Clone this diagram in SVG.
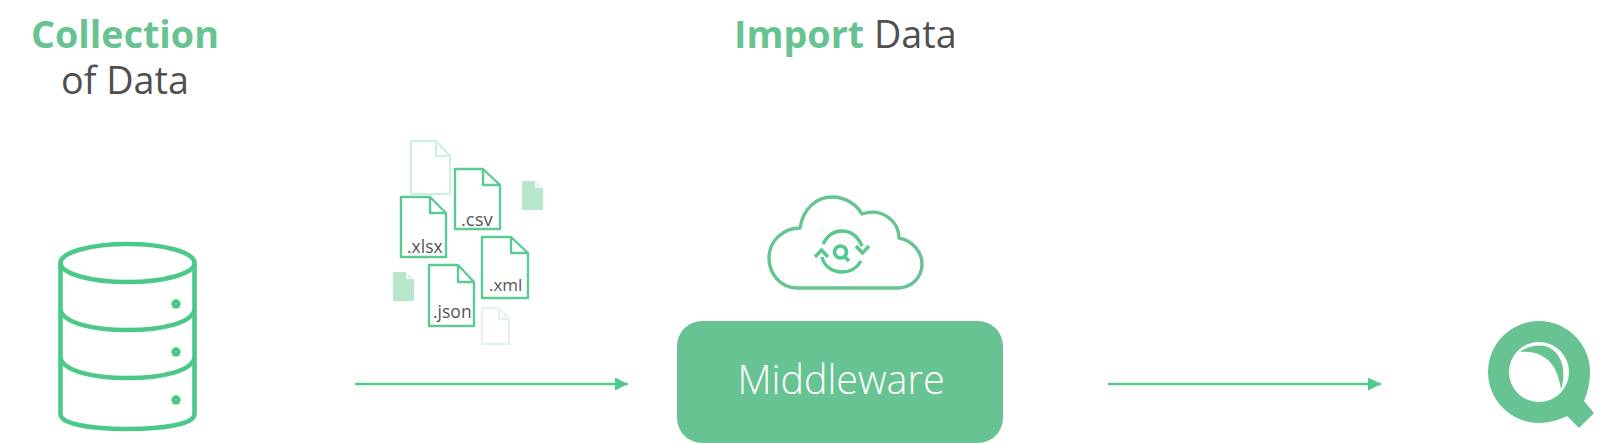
<svg xmlns="http://www.w3.org/2000/svg" width="1600" height="443" viewBox="0 0 1600 443">
<style>
text{font-family:"Open Sans","Liberation Sans",sans-serif}
.t{font-size:37.700px;fill:#4f4f4f}
.b{font-weight:700;fill:#67c391}
.f{fill:#fff;stroke:#5bcb93;stroke-width:2.400;stroke-linejoin:round}
.l{fill:#fff;stroke:#cfefdd;stroke-width:2}
.x{fill:#fff;stroke:#e0f5ea;stroke-width:2}
.s{fill:#b7e6cd}
.e{font-size:17.500px;fill:#555}
.i{fill:none;stroke:#4cc98a;stroke-width:4.600}
.c{fill:none;stroke:#67c391;stroke-width:3.400;stroke-linejoin:round}
.w{stroke:#50c98c;stroke-width:2.600;fill:none}
.y{stroke:#5cc690;stroke-width:3.400;fill:none}
</style>
<defs>
<marker id="ah" markerUnits="userSpaceOnUse" markerWidth="14" markerHeight="14" refX="13" refY="6.500" orient="auto"><path d="M0 0L13 6.500L0 13Z" fill="#50c98c"/></marker>
</defs>
<g id="title-collection"><text class="t b" x="125" y="48" text-anchor="middle">Collection</text><text class="t" x="125" y="94" text-anchor="middle">of Data</text></g>
<g id="title-import"><text class="t" x="734" y="48"><tspan class="b">Import</tspan> Data</text></g>
<g id="database">
<ellipse class="i" cx="127.500" cy="263" rx="67" ry="19"/>
<path class="i" d="M60.500 263V414C60.500 424 90 429 127.500 429S194.500 424 194.500 414V263"/>
<path class="i" d="M60.500 310C64 323 92 330 127.500 330S191 323 194.500 310"/>
<path class="i" d="M60.500 358C64 371 92 378 127.500 378S191 371 194.500 358"/>
<circle cx="176" cy="304" r="4.700" fill="#4cc98a"/><circle cx="176" cy="352" r="4.700" fill="#4cc98a"/><circle cx="176" cy="400" r="4.700" fill="#4cc98a"/>
</g>
<g id="files">
<path class="l" d="M411 141H436L450 156V194H411ZM436 141V156H450"/>
<path class="f" d="M455 169H483L500 185V229H455ZM483 169V185H500"/><text class="e" x="461" y="226" style="font-size:18.500px">.csv</text>
<path class="f" d="M401 197H430L446 213V257H401ZM430 197V213H446"/><text class="e" x="407" y="253">.xlsx</text>
<path class="f" d="M482 237H511L528 253V298H482ZM511 237V253H528"/><text class="e" x="489" y="291" style="font-size:17px">.xml</text>
<path class="f" d="M429 265H458L474 282V326H429ZM458 265V282H474"/><text class="e" x="433" y="318">.json</text>
<path class="x" d="M482 308H499L509 319V344H482ZM499 308V319H509"/>
<path class="s" d="M522 181H535V188H543V210H522Z"/><path d="M536.500 181.500L542.500 187H536.500Z" fill="#dff4e9"/>
<path class="s" d="M393 272H406V279H414V301H393Z"/><path d="M407.500 272.500L413.500 278H407.500Z" fill="#dff4e9"/>
</g>
<g id="cloud">
<path class="c" d="M797 288C780 288 769 273 769 258C769 241 783 228 800 228C803 209 816 197 832 197C845 197 856 204 862 214C883 207 899 222 899 238C913 241 922 252 922 264C922 278 911 288 897 288Z"/>
<path class="y" d="M823 244C827 236 834 231 842 231C851 231 858 237 862 246"/>
<path class="y" d="M822 257C824 266 832 272 842 272C850 272 857 268 861 261"/>
<path class="y" d="M815 257L821.500 250L828 257M856 246L862.500 253L869 246"/>
<circle cx="840.500" cy="252" r="6" fill="none" stroke="#50c98c" stroke-width="3.600"/><path d="M845 257L849 261" stroke="#50c98c" stroke-width="3.600"/>
</g>
<g id="middleware"><rect x="677" y="321" width="326" height="122" rx="25" fill="#67c391"/><text x="841" y="394" text-anchor="middle" font-size="39.500" font-weight="300" fill="#fff">Middleware</text></g>
<g id="qlogo">
<path d="M1539 321A51 51 0 1 0 1539 423C1549 423 1559 420 1567 416L1579 428L1594 413L1584 401C1588 392 1590 382 1590 372A51 51 0 0 0 1539 321ZM1539 342A30 30 0 1 1 1539 402A30 30 0 1 1 1539 342Z" fill="#67c391" fill-rule="evenodd"/>
<path d="M1520 352C1526 347 1534 345.500 1541 345.500C1553 346 1561 356 1563 368C1564 376 1563 383 1561 389C1559 377 1556 369 1550 362C1541 353 1531 351 1520 352Z" fill="#67c391"/>
</g>
<g id="connectors">
<line class="w" x1="355" y1="384" x2="628" y2="384" marker-end="url(#ah)"/>
<line class="w" x1="1108" y1="384" x2="1381" y2="384" marker-end="url(#ah)"/>
</g>
</svg>
